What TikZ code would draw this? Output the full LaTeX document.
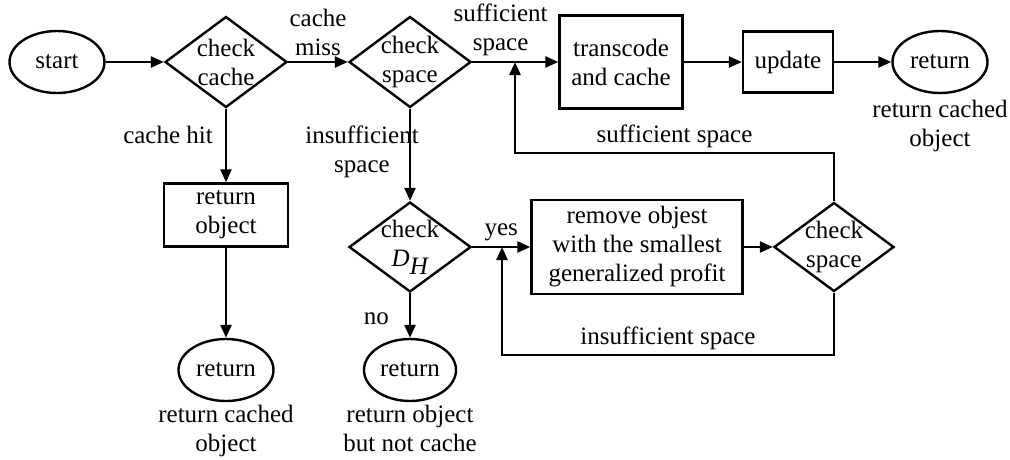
\documentclass[tikz,border=0pt]{standalone}
\usepackage{fontspec}
\setmainfont{Liberation Serif}
\usetikzlibrary{shapes.geometric,arrows.meta,positioning}
\begin{document}
\begin{tikzpicture}[x=1pt,y=-1pt,line width=2.4pt,
  every node/.style={font=\fontsize{25}{29}\selectfont,align=center,inner sep=0pt},
  arr/.style={-{Triangle[length=13pt,width=11pt]}},
  term/.style={draw,ellipse,minimum width=95pt,minimum height=62pt},
  proc/.style={draw,rectangle},
  decide/.style={draw,diamond,minimum width=122pt,minimum height=91pt,inner sep=-14pt}]
\useasboundingbox (0,0) rectangle (1010,459);
% top row
\node[term] (start) at (57,62) {start};
\node[decide] (ccache) at (226,62) {check\\cache};
\node[decide] (cspace1) at (410,62) {check\\space};
\node[proc,minimum width=123pt,minimum height=93pt] (tc) at (621,62) {transcode\\and cache};
\node[proc,minimum width=90pt,minimum height=61pt] (upd) at (788,62) {update};
\node[term] (ret1) at (940,62) {return};
\node[below=5pt of ret1] (ret1txt) {return cached\\object};
% left column
\node[proc,minimum width=124pt,minimum height=63pt] (robj) at (226,215) {return\\object};
\node[term] (ret2) at (226,370) {return};
\node[below=2pt of ret2] (ret2txt) {return cached\\object};
% middle row
\node[decide,minimum height=90pt] (cdh) at (410,247) {check\\\textit{D}$_{\textit{H}}$};
\node[term,minimum width=92pt] (ret3) at (410,370) {return};
\node[below=2pt of ret3] (ret3txt) {return object\\but not cache};
\node[proc,minimum width=211pt,minimum height=94pt] (rem) at (637,247) {remove objest\\with the smallest\\generalized profit};
\node[decide,minimum width=120pt,minimum height=89pt] (cspace2) at (834,247) {check\\space};
\coordinate (jtop) at (515,62);
\coordinate (jbot) at (502,247);
\coordinate (ytop) at (0,153);
\coordinate (ybot) at (0,355);

\draw[arr] (start) -- (ccache);
\draw[arr] (ccache) -- node[above=5pt] (lmiss) {cache\\miss} (cspace1);
\draw[arr] (cspace1) -- node[pos=0.33,above=5pt] (lsuf1) {sufficient\\space} (tc);
\draw[arr] (tc) -- (upd);
\draw[arr] (upd) -- (ret1);
\draw[arr] (ccache) -- node[pos=0.36,left=12pt] (lhit) {cache hit} (robj);
\draw[arr] (robj) -- (ret2);
\draw[arr] (cspace1) -- node[pos=0.47,xshift=-48pt] (linsuf1) {insufficient\\space} (cdh);
\draw[arr] (cdh) -- node[above=5pt] (lyes) {yes} (rem);
\draw[arr] (cdh) -- node[pos=0.58,left=20pt] (lno) {no} (ret3);
\draw[arr] (rem) -- (cspace2);
\draw[arr] (cspace2) -- (cspace2 |- ytop) -| node[pos=0.25,above=4pt] (lsuf2) {sufficient space} (jtop);
\draw[arr] (cspace2) -- (cspace2 |- ybot) -| node[pos=0.25,above=4pt] (linsuf2) {insufficient space} (jbot);
\end{tikzpicture}
\end{document}
